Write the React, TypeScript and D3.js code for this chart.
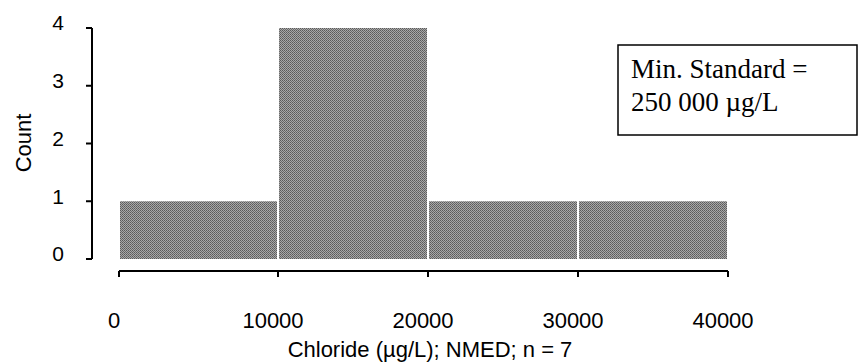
import React from "react";
import * as d3 from "d3";

const binStarts = [0, 10000, 20000, 30000];
const binEnds = [10000, 20000, 30000, 40000];
const counts = [1, 4, 1, 1];
const xTicks = [0, 10000, 20000, 30000, 40000];
const yTicks = [0, 1, 2, 3, 4];
const xTitle = "Chloride (\u00b5g/L); NMED; n = 7";
const yTitle = "Count";
const noteLines = ["Min. Standard =", "250 000 \u00b5g/L"];

export default function App() {
  const W = 859, H = 364;
  const x = d3.scaleLinear().domain([0, 10000, 40000]).range([119, 278, 728]);
  const y = d3.scaleLinear().domain([0, 4]).range([259, 28]);
  const axisY = 271;
  const axisX = 92;
  const sans = "Liberation Sans, Arial, sans-serif";
  const serif = "Liberation Serif, Times New Roman, serif";
  return (
    <svg width={W} height={H} style={{ position: "absolute", left: 0, top: 0, background: "#fff" }}>
      <defs>
        <pattern id="dither" width="2" height="2" patternUnits="userSpaceOnUse">
          <rect width="2" height="2" fill="#a8a8a8" />
          <rect width="1" height="1" fill="#5a5a5a" />
          <rect x="1" y="1" width="1" height="1" fill="#6a6a6a" />
        </pattern>
      </defs>
      {counts.map((c, i) => (
        <rect
          key={i}
          x={x(binStarts[i]) + 1}
          y={y(c)}
          width={x(binEnds[i]) - x(binStarts[i]) - 2}
          height={y(0) - y(c)}
          fill="url(#dither)"
        />
      ))}
      <line x1={axisX} x2={axisX} y1={y(4)} y2={y(0)} stroke="#000" strokeWidth={2} />
      {yTicks.map((t) => (
        <g key={t}>
          <line x1={axisX - 6} x2={axisX} y1={y(t)} y2={y(t)} stroke="#000" strokeWidth={2} />
          <text x={64} y={y(t) - 5} dy="0.35em" textAnchor="end" fontFamily={sans} fontSize={21}>
            {t}
          </text>
        </g>
      ))}
      <text
        transform={`translate(23,143) rotate(-90)`}
        textAnchor="middle"
        dy="0.35em"
        fontFamily={sans}
        fontSize={22}
      >
        {yTitle}
      </text>
      <line x1={x(0)} x2={x(40000)} y1={axisY} y2={axisY} stroke="#000" strokeWidth={2} />
      {xTicks.map((t) => (
        <g key={t}>
          <line x1={x(t)} x2={x(t)} y1={axisY} y2={axisY + 6} stroke="#000" strokeWidth={2} />
          <text x={x(t) - 5} y={328} textAnchor="middle" fontFamily={sans} fontSize={22}>
            {t}
          </text>
        </g>
      ))}
      <text x={430} y={357} textAnchor="middle" fontFamily={sans} fontSize={22}>
        {xTitle}
      </text>
      <rect x={618} y={45} width={239} height={90} fill="#fff" stroke="#000" strokeWidth={1.5} />
      {noteLines.map((l, i) => (
        <text key={i} x={631} y={78 + i * 33} fontFamily={serif} fontSize={27}>
          {l}
        </text>
      ))}
    </svg>
  );
}
